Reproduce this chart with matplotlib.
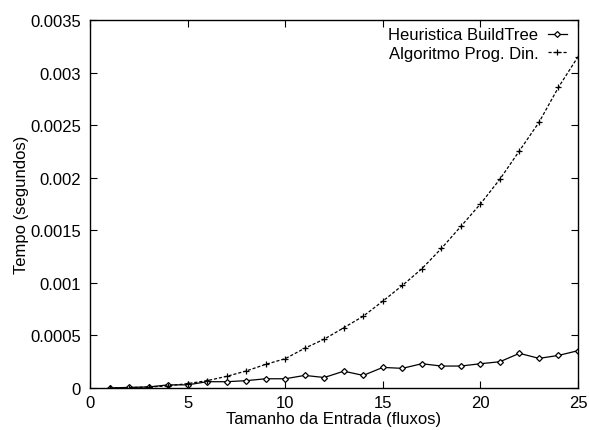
import matplotlib
matplotlib.use('Agg')
import matplotlib.pyplot as plt

plt.rcParams['font.family'] = ['Liberation Sans', 'DejaVu Sans']

# tamanho da entrada (fluxos)
fluxos = list(range(1, 26))

# Heuristica BuildTree (segundos)
heuristica = [0.0, 0.000006, 0.00001, 0.00003, 0.00003, 0.00006, 0.00006, 0.00007,
              0.000088, 0.000088, 0.00012, 0.0001, 0.00016, 0.00012, 0.000196,
              0.000187, 0.000231, 0.000209, 0.000209, 0.000231, 0.00025, 0.00033,
              0.000282, 0.00031, 0.000355]

# Algoritmo Prog. Din. (segundos)
prog_din = [0.0, 0.000003, 0.00001, 0.00002, 0.000042, 0.00007, 0.000111, 0.000162,
            0.000225, 0.000279, 0.000378, 0.000465, 0.000573, 0.000683, 0.000826,
            0.000975, 0.001134, 0.001327, 0.001537, 0.00175, 0.001986, 0.002256,
            0.002526, 0.00286, 0.00315]

xticks = [0, 5, 10, 15, 20, 25]
yticks = [0, 0.0005, 0.001, 0.0015, 0.002, 0.0025, 0.003, 0.0035]
ylabels = ['0', '0.0005', '0.001', '0.0015', '0.002', '0.0025', '0.003', '0.0035']

fig = plt.figure(figsize=(5.89, 4.31), dpi=100)
ax = fig.add_axes([0.1528, 0.0974, 0.8285, 0.8539])

ax.plot(fluxos, heuristica, color='black', lw=0.9, marker='D', markersize=3.0,
        markerfacecolor='white', markeredgewidth=0.9, label='Heuristica BuildTree')
ax.plot(fluxos, prog_din, color='black', lw=0.9, dashes=(2.5, 1.5), marker='+',
        markersize=5, markeredgewidth=0.9, label='Algoritmo Prog. Din.')

ax.set_xlim(0, 25)
ax.set_ylim(0, 0.0035)
ax.set_xticks(xticks)
ax.set_yticks(yticks)
ax.set_yticklabels(ylabels)
ax.tick_params(direction='in', top=True, right=True, length=5, width=0.8,
               labelsize=12)
ax.tick_params(axis='y', pad=6.5)
ax.tick_params(axis='x', pad=5)
for s in ax.spines.values():
    s.set_linewidth(1.0)

ax.set_xlabel('Tamanho da Entrada (fluxos)', fontsize=12, labelpad=1)
ax.set_ylabel('Tempo (segundos)', fontsize=12, labelpad=1)

ax.legend(loc='upper right', bbox_to_anchor=(0.977, 0.98), frameon=False,
          markerfirst=False, fontsize=12, handlelength=1.15, handletextpad=0.55,
          labelspacing=0.2, borderaxespad=0, borderpad=0)

fig.savefig('out.png', dpi=100)
